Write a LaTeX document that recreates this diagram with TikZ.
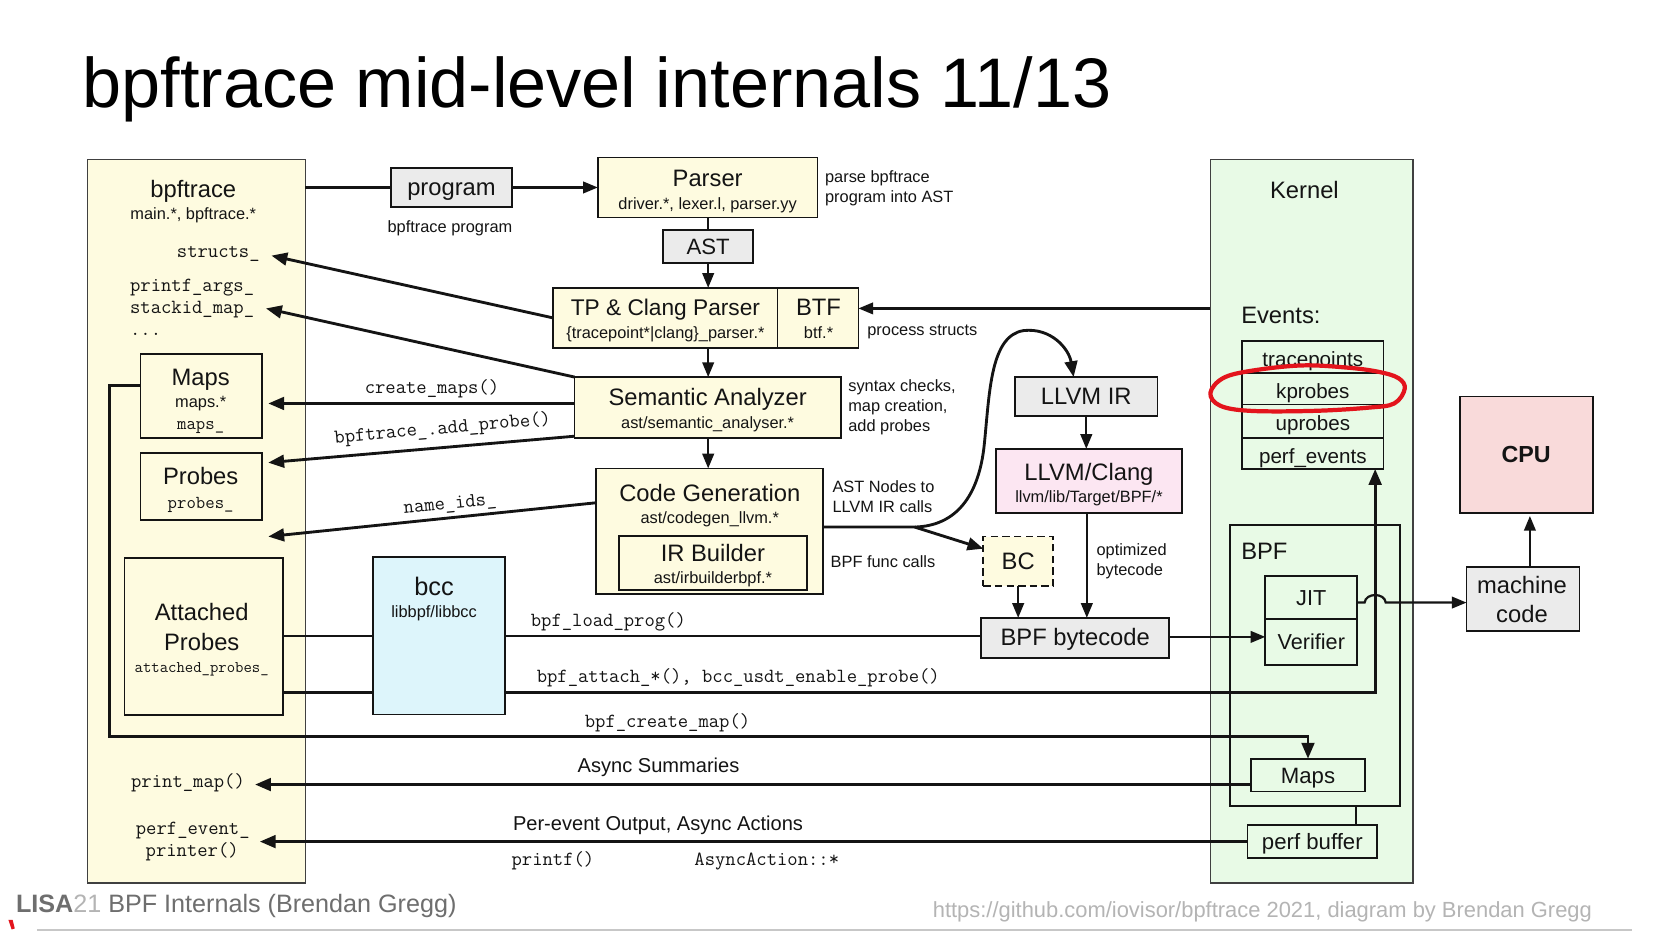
\documentclass[tikz,border=0pt]{standalone}
\usepackage{fontspec}
\usepackage{graphicx}
\setmainfont{Liberation Sans}
\usetikzlibrary{arrows.meta,calc}
\definecolor{cream}{HTML}{FEFBE0}
\definecolor{kgreen}{HTML}{E8FAE6}
\definecolor{grayf}{HTML}{EBEBEB}
\definecolor{bccblue}{HTML}{DDF5FB}
\definecolor{llvmpink}{HTML}{FCE6F2}
\definecolor{cpupink}{HTML}{F9DADA}
\definecolor{inkc}{HTML}{141414}
\definecolor{hand}{HTML}{E3141C}
\definecolor{footg}{HTML}{6E6E6E}
\definecolor{footl}{HTML}{B4B4B4}
\begin{document}
\begin{tikzpicture}[x=1pt,y=-1pt,
  bx/.style={draw=inkc, line width=1.6pt, inner sep=0pt, outer sep=0pt},
  outerbx/.style={draw=black!75, line width=1.4pt, inner sep=0pt, outer sep=0pt},
  big/.style={font=\fontsize{22.5}{26}\selectfont, text=inkc, inner sep=0pt, text height=17pt, text depth=1.8pt},
  evt/.style={font=\fontsize{19.5}{22}\selectfont, text=inkc, inner sep=0pt, text height=20.9pt, text depth=2.9pt},
  sub/.style={font=\fontsize{15.5}{19}\selectfont, text=inkc, inner sep=0pt, text height=12.9pt, text depth=1.9pt},
  mono/.style={font=\ttfamily\fontsize{19}{21}\selectfont, text=inkc, inner sep=0pt, text height=13.4pt, text depth=1.9pt},
  tarr/.style={draw=inkc, line width=2.7pt, -{Triangle[length=15pt,width=12pt]}},
  marr/.style={draw=inkc, line width=2.1pt, -{Triangle[length=14pt,width=11pt]}},
  tln/.style={draw=inkc, line width=2.7pt},
  mln/.style={draw=inkc, line width=2.1pt},
  sln/.style={draw=inkc, line width=1.7pt},
]
\useasboundingbox (0,0) rectangle (1566,881.5);
\fill[white] (0,0) rectangle (1566,881.5);

% ---------- title ----------
\node[anchor=base west, inner sep=0pt] (title) at (78,102)
  {\resizebox{974pt}{!}{\fontsize{60}{60}\selectfont bpftrace mid-level internals 11/13}};

% ---------- outer boxes ----------
\node[outerbx, fill=cream, minimum width=206pt, minimum height=685pt] (bpft) at (186,493.5) {};
\node[outerbx, fill=kgreen, minimum width=192pt, minimum height=685pt] (kern) at (1242,493.5) {};

% ---------- bpftrace contents ----------
\node[big] (bpfttitle) at (183,179) {bpftrace};
\node[sub] (bpftsub) at (183,202) {main.*, bpftrace.*};
\node[mono, anchor=east] (structs) at (246,238) {structs\_};
\node[mono, anchor=west] (pargs) at (123,270) {printf\_args\_};
\node[mono, anchor=west] (stackid) at (123,291) {stackid\_map\_};
\node[mono, anchor=west] (dots) at (123,312) {...};

\node[bx, fill=cream, minimum width=115pt, minimum height=80pt] (maps) at (190.5,375) {};
\node[big] (mapst) at (190,357) {Maps};
\node[sub] (mapss) at (190,380) {maps.*};
\node[mono, font=\ttfamily\fontsize{17.3}{19}\selectfont] (mapsm) at (190,401) {maps\_};

\node[bx, fill=cream, minimum width=115pt, minimum height=63pt] (probes) at (190.5,460.5) {};
\node[big] (probest) at (190,451) {Probes};
\node[mono, font=\ttfamily\fontsize{17.3}{19}\selectfont] (probesm) at (190,476) {probes\_};

\node[bx, fill=cream, minimum width=150pt, minimum height=149pt] (att) at (193,602.5) {};
\node[big] (att1) at (191,580) {Attached};
\node[big] (att2) at (191,608) {Probes};
\node[mono, font=\ttfamily\fontsize{15.4}{17}\selectfont] (attm) at (191,631) {attached\_probes\_};

\node[mono] (pmap) at (178,740) {print\_map()};
\node[mono] (pev) at (182.5,784) {perf\_event\_};
\node[mono] (pprint) at (182,805) {printer()};

% ---------- pipeline ----------
\node[bx, fill=grayf, minimum width=115pt, minimum height=37pt, big] (program) at (427.5,177.5) {program};
\node[sub] (programl) at (426,215) {bpftrace program};

\node[bx, fill=cream, minimum width=208pt, minimum height=57pt] (parser) at (670,177.5) {};
\node[big] (parsert) at (670,169) {Parser};
\node[sub] (parsers) at (670,193) {driver.*, lexer.l, parser.yy};
\node[sub, anchor=west] (parsel1) at (781,167) {parse bpftrace};
\node[sub, anchor=west] (parsel2) at (781,186) {program into AST};

\node[bx, fill=grayf, minimum width=85pt, minimum height=31pt, big, font=\fontsize{21}{24}\selectfont] (ast) at (670.5,233.5) {AST};

\node[bx, fill=cream, minimum width=212.5pt, minimum height=57pt] (tp) at (630,301) {};
\node[big, font=\fontsize{21.5}{24}\selectfont] (tpt) at (630,291) {TP \& Clang Parser};
\node[sub] (tps) at (630,315) {\{tracepoint*|clang\}\_parser.*};
\node[bx, fill=cream, minimum width=76.5pt, minimum height=57pt] (btf) at (774.5,301) {};
\node[big] (btft) at (775,291) {BTF};
\node[sub] (btfs) at (775,315) {btf.*};
\node[sub, anchor=west] (procl) at (821,312) {process structs};

\node[bx, fill=cream, minimum width=252pt, minimum height=58pt] (sem) at (670,386) {};
\node[big] (semt) at (670,376) {Semantic Analyzer};
\node[sub] (sems) at (670,400) {ast/semantic\_analyser.*};
\node[sub, anchor=west] (seml1) at (803,365) {syntax checks,};
\node[sub, anchor=west] (seml2) at (803,384) {map creation,};
\node[sub, anchor=west] (seml3) at (803,403) {add probes};

\node[bx, fill=cream, minimum width=215pt, minimum height=119pt] (codegen) at (672,503) {};
\node[big] (cgt) at (672,467) {Code Generation};
\node[sub] (cgs) at (672,490) {ast/codegen\_llvm.*};
\node[bx, fill=cream, minimum width=178pt, minimum height=51pt] (irb) at (675,533) {};
\node[big] (irbt) at (675,524) {IR Builder};
\node[sub] (irbs) at (675,547) {ast/irbuilderbpf.*};
\node[sub, anchor=west] (cgl1) at (788,461) {AST Nodes to};
\node[sub, anchor=west] (cgl2) at (788,480) {LLVM IR calls};
\node[sub] (funcl) at (836,532) {BPF func calls};

\node[bx, fill=bccblue, minimum width=125pt, minimum height=149pt] (bcc) at (415.5,602) {};
\node[big, font=\fontsize{24}{26}\selectfont] (bcct) at (411,556) {bcc};
\node[sub] (bccs) at (411,579) {libbpf/libbcc};

\node[bx, fill=grayf, minimum width=135pt, minimum height=37pt, big] (llvmir) at (1028.5,375.5) {LLVM IR};
\node[bx, fill=llvmpink, minimum width=176pt, minimum height=61pt] (clang) at (1031,455.5) {};
\node[big] (clangt) at (1031,447) {LLVM/Clang};
\node[sub] (clangs) at (1031,470) {llvm/lib/Target/BPF/*};
\node[sub, anchor=west] (optl1) at (1038,520) {optimized};
\node[sub, anchor=west] (optl2) at (1038,539) {bytecode};

\node[bx, dash pattern=on 7pt off 4pt, fill=cream, minimum width=66pt, minimum height=47pt, big] (bc) at (964,531.5) {BC};
\node[bx, fill=grayf, minimum width=178pt, minimum height=38pt, big] (bytecode) at (1018,604) {BPF bytecode};

% ---------- kernel contents ----------
\node[big] (kernt) at (1235,180) {Kernel};
\node[big, anchor=west] (evl) at (1175,299) {Events:};
\node[bx, fill=kgreen, minimum width=134pt, minimum height=30pt, evt] (ev1) at (1243,338) {tracepoints};
\node[bx, fill=kgreen, minimum width=134pt, minimum height=30pt, evt] (ev2) at (1243,368) {kprobes};
\node[bx, fill=kgreen, minimum width=134pt, minimum height=32pt, evt] (ev3) at (1243,399) {uprobes};
\node[bx, fill=kgreen, minimum width=134pt, minimum height=29pt, evt] (ev4) at (1243,429.5) {perf\_events};

\node[bx, fill=kgreen, minimum width=161.5pt, minimum height=266pt] (bpfb) at (1245,630) {};
\node[big, anchor=west] (bpfbt) at (1175,522) {BPF};
\node[bx, fill=kgreen, minimum width=87pt, minimum height=40.5pt, big, font=\fontsize{20.5}{24}\selectfont] (jit) at (1241.5,565.5) {JIT};
\node[bx, fill=kgreen, minimum width=87pt, minimum height=44pt, big, font=\fontsize{20.5}{24}\selectfont] (verif) at (1241.5,607.8) {Verifier};
\node[bx, fill=kgreen, minimum width=108pt, minimum height=31pt, big, font=\fontsize{21}{24}\selectfont] (kmaps) at (1238.4,733.8) {Maps};
\node[bx, fill=kgreen, minimum width=123pt, minimum height=31.5pt, big, font=\fontsize{21}{24}\selectfont] (perfbuf) at (1242.5,796.8) {perf buffer};

% ---------- CPU side ----------
\node[bx, fill=cpupink, minimum width=126pt, minimum height=110pt, big, font=\bfseries\fontsize{22}{26}\selectfont] (cpu) at (1445,430.5) {CPU};
\node[bx, fill=grayf, minimum width=107pt, minimum height=61pt] (mcode) at (1442,567) {};
\node[big] (mc1) at (1441,554) {machine};
\node[big] (mc2) at (1441,582) {code};

% ---------- connector labels ----------
\node[mono] (cml) at (409,366.5) {create\_maps()};
\node[mono, rotate=5] (apl) at (419,405) {bpftrace\_.add\_probe()};
\node[mono, rotate=5.5] (nil) at (426,476) {name\_ids\_};
\node[mono] (lpl) at (576,587) {bpf\_load\_prog()};
\node[mono] (bal) at (699,640) {bpf\_attach\_*(), bcc\_usdt\_enable\_probe()};
\node[mono] (bcml) at (632,683) {bpf\_create\_map()};
\node[big, font=\fontsize{19}{22}\selectfont] (asl) at (623.5,723.5) {Async Summaries};
\node[big, font=\fontsize{19}{22}\selectfont] (pel) at (623,779) {Per-event Output, Async Actions};
\node[mono] (pfl) at (523.5,814) {printf()};
\node[mono] (aal) at (726,814) {AsyncAction::*};

% ---------- connectors ----------
\coordinate (nameids) at (254,508);
\coordinate (split) at (866,499);
\coordinate (cm1) at (104,697.5);
\coordinate (btfin) at ([yshift=9pt]btf.east);

\draw[mln] (program.west -| bpft.east) -- (program.west);
\draw[marr] (program.east) -- (program.east -| parser.west);
\draw[mln] (parser.south) -- (parser.south |- ast.north);
\draw[marr] (ast.south) -- (ast.south |- tp.north);
\draw[marr] (ast.south |- tp.south) -- (ast.south |- sem.north);
\draw[marr] (ast.south |- sem.south) -- (ast.south |- codegen.north);
\draw[marr] (btfin -| kern.west) -- (btfin);

\draw[tarr] (tp.west) -- ([xshift=11pt,yshift=-4pt]structs.east);
\draw[tarr] (sem.north west) -- ([xshift=11pt,yshift=-1pt]stackid.east);
\draw[tarr, shorten >=6pt] ([yshift=4pt]sem.west) -- ([yshift=4pt]sem.west -| maps.east);
\draw[tarr] ([yshift=-27pt]sem.west) -- ([xshift=6pt,yshift=22.5pt]probes.east);
\draw[tarr] ([yshift=27pt]codegen.west) -- (nameids);

\draw[tarr] ([yshift=4pt]codegen.east) -- (split)
  .. controls (905,498) and (927,470) .. (932,420)
  .. controls (937,370) and (938,318) .. (969,313)
  .. controls (995,310) and (1012,330) .. ([xshift=-12pt]llvmir.north);
\draw[tarr] (split) -- ([yshift=12pt]bc.west);

\draw[marr] (llvmir.south) -- (llvmir.south |- clang.north);
\draw[marr] ([xshift=-2pt]clang.south) -- ([xshift=-2pt]clang.south |- bytecode.north);
\draw[marr] (bc.south) -- (bc.south |- bytecode.north);
\draw[marr] ([yshift=1pt]bytecode.east) -- ([yshift=1pt]bytecode.east -| verif.west);

\draw[mln] (att.east) -- (att.east -| bcc.west);
\draw[mln] (att.east -| bcc.east) -- (att.east -| bytecode.west);
\draw[tln] ([yshift=-53pt]att.east) -- ([yshift=-53pt]att.east -| bcc.west);
\draw[tarr] ([yshift=-53pt]att.east -| bcc.east) -| ([xshift=59pt]ev4.south);

\draw[tarr] ([yshift=10pt]maps.west) -| (cm1) -| (kmaps.north);
\draw[tarr, shorten >=9.5pt] ([yshift=-9pt]kmaps.west) -- ([yshift=-9pt]kmaps.west -| pmap.east);
\draw[tarr, shorten >=9.5pt] (perfbuf.west) -- (perfbuf.west -| pev.east);
\draw[sln] ([xshift=38.5pt]bpfb.south) -- ([xshift=38.5pt]bpfb.south |- perfbuf.north);

\draw[marr] ([yshift=-5pt]jit.east) -- (1292,570.5)
  .. controls (1293,561) and (1311,561) .. (1312,570.5)
  -- ([yshift=-5pt]jit.east -| mcode.west);
\draw[marr, shorten >=3pt] ([xshift=6.5pt]mcode.north) -- ([xshift=6.5pt]mcode.north |- cpu.south);

% ---------- hand-drawn highlight ----------
\draw[hand, line width=4pt, line join=round]
  plot[smooth cycle, tension=0.6] coordinates {(1146,372) (1158,358) (1185,351) (1232,346) (1275,348) (1305,352) (1324,358) (1330,368) (1320,382) (1295,386) (1244,389) (1184,389) (1155,384)};

% ---------- footer ----------
\node[anchor=base west, inner sep=0pt] (footleft) at (15,864)
  {\resizebox{417pt}{!}{\fontsize{22}{22}\selectfont\textcolor{footg}{\bfseries LISA}\textcolor{footl}{21} \textcolor{footg}{BPF Internals (Brendan Gregg)}}};
\node[anchor=base west, inner sep=0pt] (footright) at (883,869)
  {\resizebox{624pt}{!}{\fontsize{20}{20}\selectfont\textcolor{footl}{https://github.com/iovisor/bpftrace 2021, diagram by Brendan Gregg}}};
\draw[black!22, line width=1.5pt] (35,880.5) -- (1545,880.5);
\fill[hand] (8,871) -- (12,871) -- (14,879) -- (11,880) -- cycle;
\end{tikzpicture}
\end{document}
